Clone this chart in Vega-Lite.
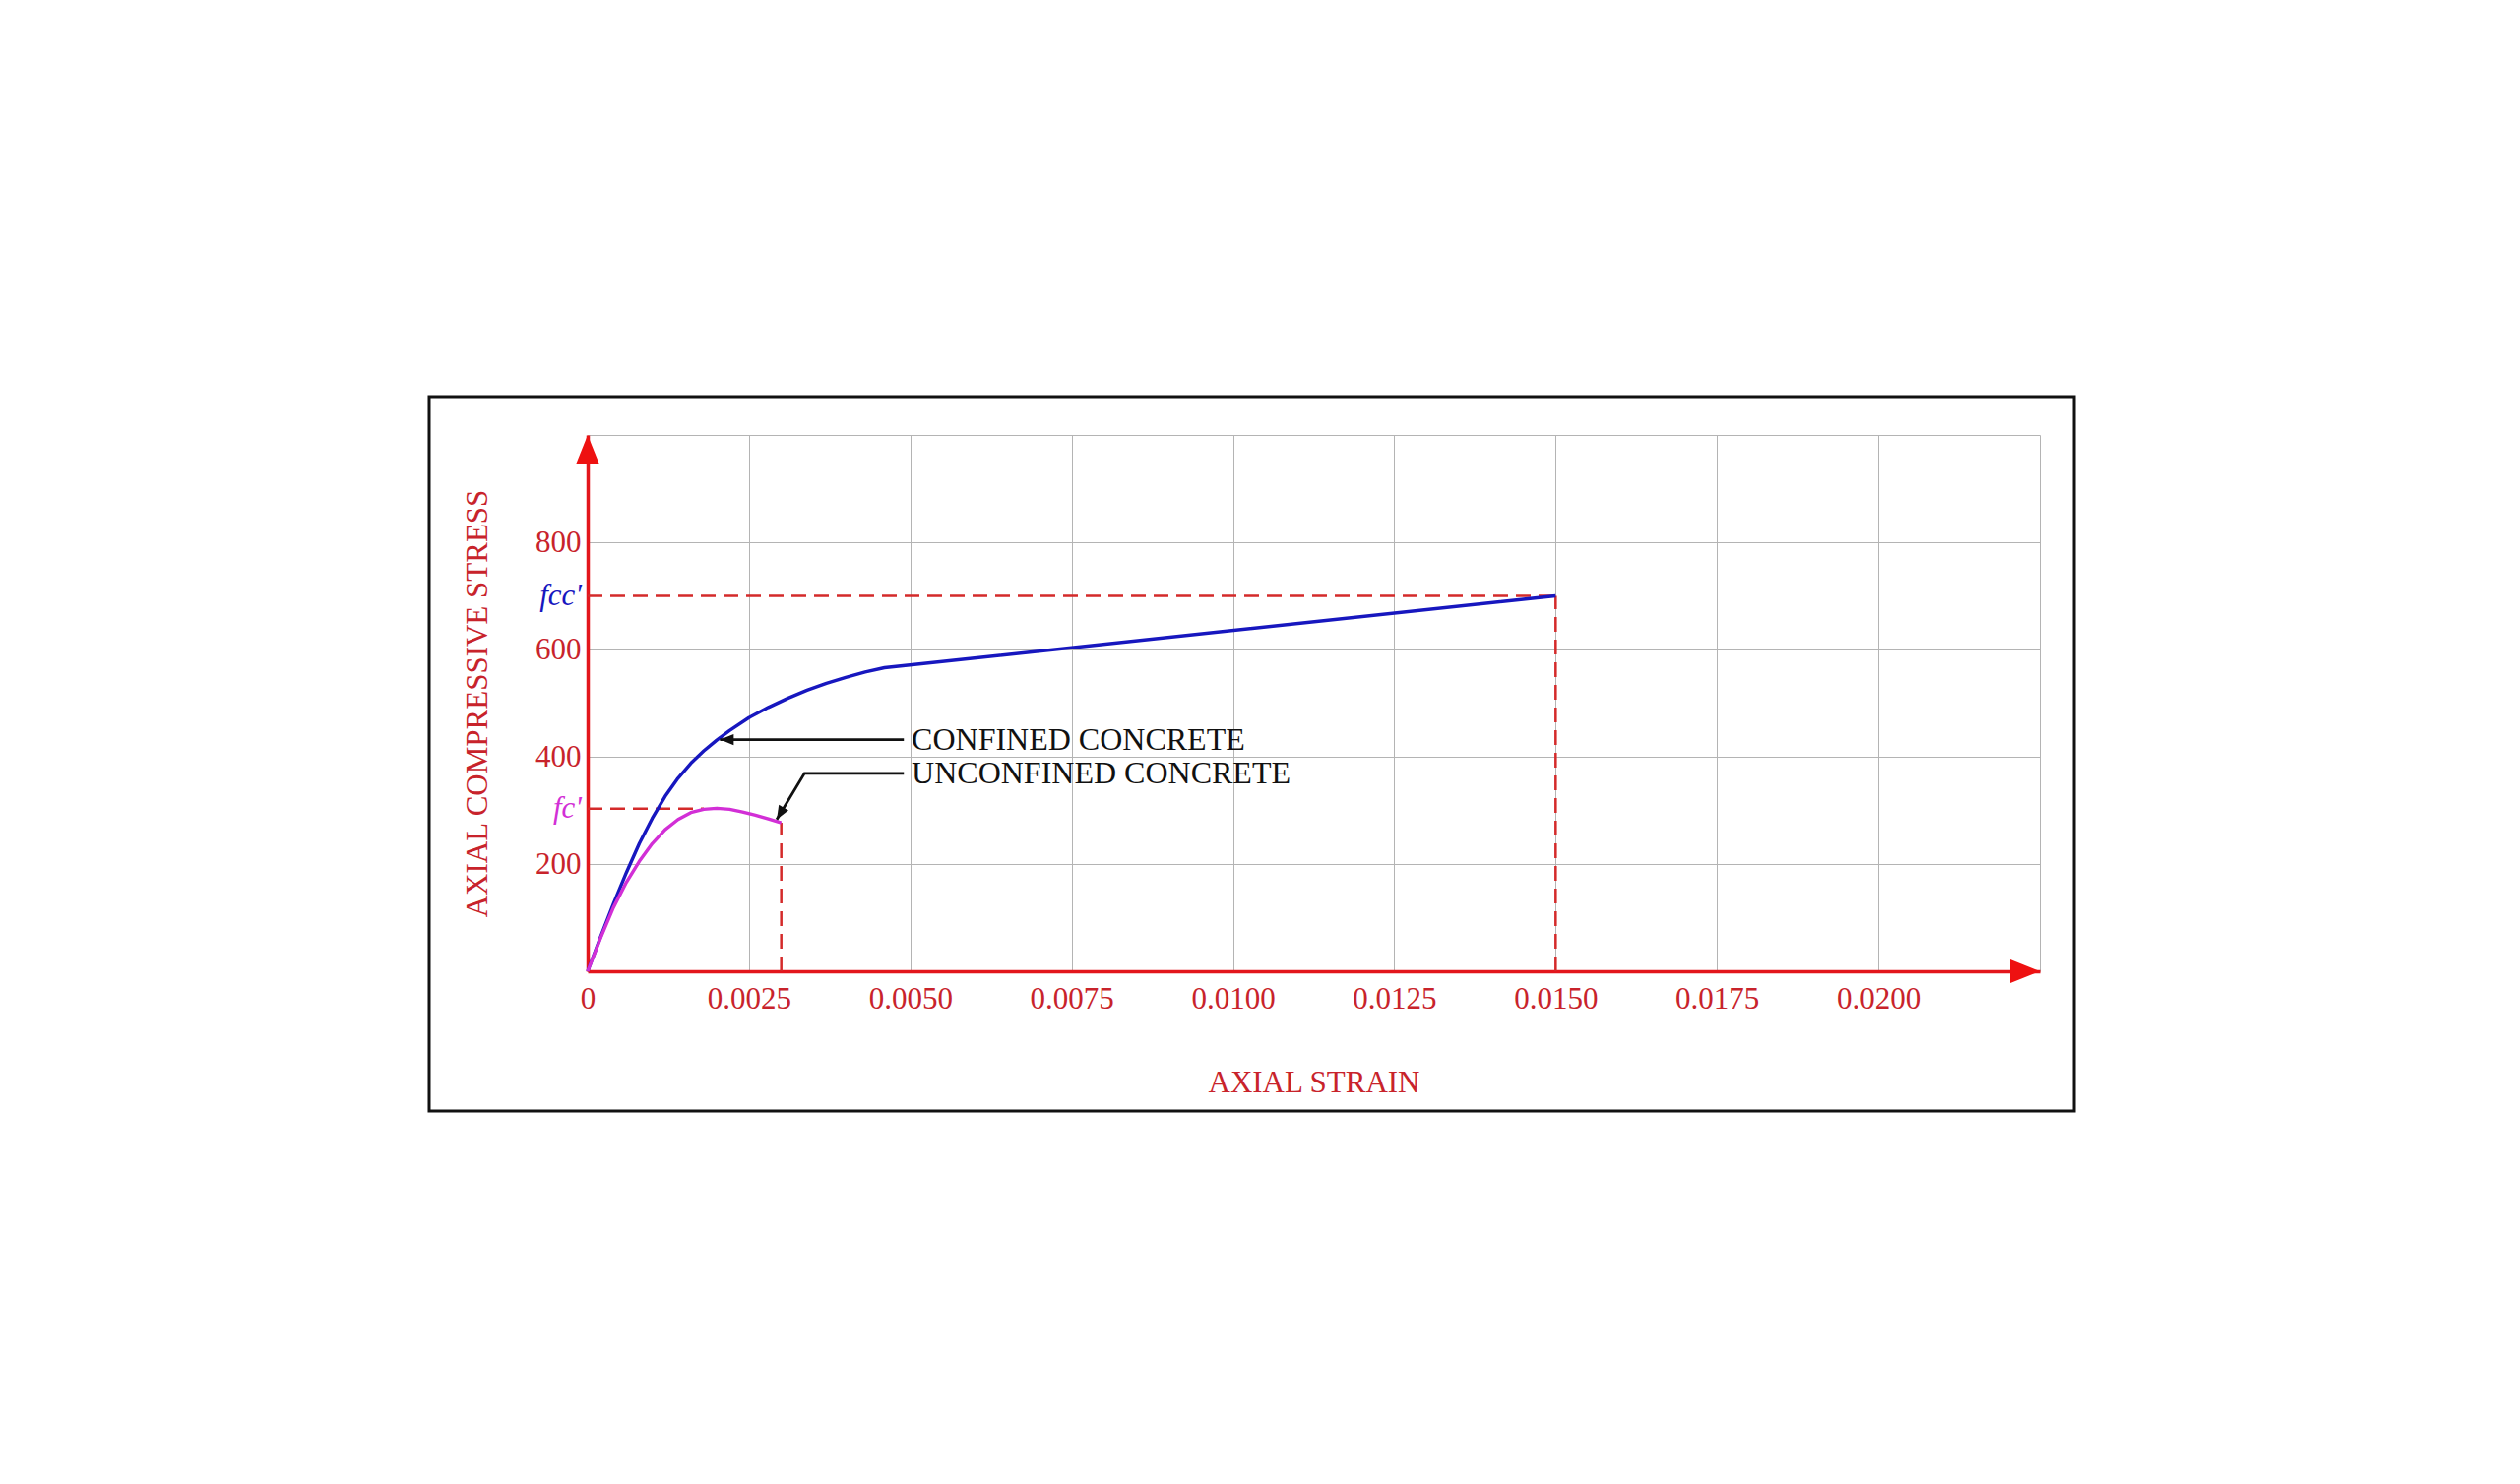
{
  "$schema": "https://vega.github.io/schema/vega-lite/v6.json",
  "width": 1475,
  "height": 545,
  "padding": {"left": 434, "top": 401, "right": 20, "bottom": 20},
  "background": "white",
  "config": {
    "view": {"stroke": null},
    "font": "Liberation Serif"
  },
  "datasets": {
    "curves": [
      {"series": "Confined", "strain": 0, "stress": 0},
      {"series": "Confined", "strain": 0.0002, "stress": 64},
      {"series": "Confined", "strain": 0.0004, "stress": 126},
      {"series": "Confined", "strain": 0.0006, "stress": 184},
      {"series": "Confined", "strain": 0.0008, "stress": 238},
      {"series": "Confined", "strain": 0.001, "stress": 285},
      {"series": "Confined", "strain": 0.0012, "stress": 326},
      {"series": "Confined", "strain": 0.0014, "stress": 360},
      {"series": "Confined", "strain": 0.0016, "stress": 388},
      {"series": "Confined", "strain": 0.0018, "stress": 411},
      {"series": "Confined", "strain": 0.002, "stress": 431},
      {"series": "Confined", "strain": 0.0022, "stress": 449},
      {"series": "Confined", "strain": 0.0025, "stress": 473},
      {"series": "Confined", "strain": 0.0028, "stress": 492},
      {"series": "Confined", "strain": 0.0031, "stress": 509},
      {"series": "Confined", "strain": 0.0034, "stress": 524},
      {"series": "Confined", "strain": 0.0037, "stress": 537},
      {"series": "Confined", "strain": 0.004, "stress": 548},
      {"series": "Confined", "strain": 0.0043, "stress": 558},
      {"series": "Confined", "strain": 0.0046, "stress": 566},
      {"series": "Confined", "strain": 0.015, "stress": 700},
      {"series": "Unconfined", "strain": 0, "stress": 0},
      {"series": "Unconfined", "strain": 0.0002, "stress": 62},
      {"series": "Unconfined", "strain": 0.0004, "stress": 119},
      {"series": "Unconfined", "strain": 0.0006, "stress": 166},
      {"series": "Unconfined", "strain": 0.0008, "stress": 205},
      {"series": "Unconfined", "strain": 0.001, "stress": 238},
      {"series": "Unconfined", "strain": 0.0012, "stress": 264},
      {"series": "Unconfined", "strain": 0.0014, "stress": 283},
      {"series": "Unconfined", "strain": 0.0016, "stress": 296},
      {"series": "Unconfined", "strain": 0.0018, "stress": 302},
      {"series": "Unconfined", "strain": 0.002, "stress": 304},
      {"series": "Unconfined", "strain": 0.0022, "stress": 302},
      {"series": "Unconfined", "strain": 0.0024, "stress": 297},
      {"series": "Unconfined", "strain": 0.0026, "stress": 291},
      {"series": "Unconfined", "strain": 0.0028, "stress": 284},
      {"series": "Unconfined", "strain": 0.003, "stress": 277}
    ],
    "guides": [
      {"strain": 0, "stress": 700, "strain_end": 0.015, "stress_end": 700},
      {"strain": 0.015, "stress": 0, "strain_end": 0.015, "stress_end": 700},
      {"strain": 0, "stress": 303, "strain_end": 0.0018, "stress_end": 303},
      {"strain": 0.003, "stress": 0, "strain_end": 0.003, "stress_end": 277}
    ],
    "peaks": [
      {"series": "Confined", "label": "fcc'", "strain": 0, "stress": 700},
      {"series": "Unconfined", "label": "fc'", "strain": 0, "stress": 303}
    ],
    "notes": [
      {"label": "CONFINED CONCRETE", "strain": 0.00502, "stress": 432},
      {"label": "UNCONFINED CONCRETE", "strain": 0.00502, "stress": 369}
    ],
    "leaders": [
      {"grp": "c", "seq": 1, "strain": 0.0049, "stress": 432},
      {"grp": "c", "seq": 2, "strain": 0.00205, "stress": 432},
      {"grp": "u", "seq": 1, "strain": 0.0049, "stress": 369},
      {"grp": "u", "seq": 2, "strain": 0.00336, "stress": 369},
      {"grp": "u", "seq": 3, "strain": 0.00293, "stress": 283}
    ]
  },
  "layer": [
    {
      "data": {"name": "guides"},
      "mark": {"type": "rule", "color": "#d42a2a", "strokeWidth": 2.5, "strokeDash": [15, 8]},
      "encoding": {
        "x": {
          "field": "strain",
          "type": "quantitative",
          "scale": {"domain": [0, 0.0225], "nice": false, "zero": false},
          "axis": {
            "title": "AXIAL STRAIN",
            "values": [0, 0.0025, 0.005, 0.0075, 0.01, 0.0125, 0.015, 0.0175, 0.02, 0.0225],
            "labelExpr": "datum.value == 0 ? '0' : (datum.value > 0.021 ? '' : format(datum.value, '.4f'))",
            "grid": true,
            "gridColor": "#b4b4b4",
            "gridWidth": 1,
            "domainColor": "#e3161c",
            "domainWidth": 3.5,
            "ticks": false,
            "labelFont": "Liberation Serif",
            "labelFontSize": 31,
            "labelColor": "#c8232b",
            "labelPadding": 13,
            "labelFlush": false,
            "labelOverlap": false,
            "titleFont": "Liberation Serif",
            "titleFontSize": 31,
            "titleFontWeight": "normal",
            "titleColor": "#c8232b",
            "titlePadding": 55
          }
        },
        "y": {
          "field": "stress",
          "type": "quantitative",
          "scale": {"domain": [0, 1000], "nice": false, "zero": false},
          "axis": {
            "title": "AXIAL COMPRESSIVE STRESS",
            "values": [0, 200, 400, 600, 800, 1000],
            "labelExpr": "datum.value >= 200 && datum.value <= 800 ? datum.label : ''",
            "grid": true,
            "gridColor": "#b4b4b4",
            "gridWidth": 1,
            "domainColor": "#e3161c",
            "domainWidth": 3.5,
            "ticks": false,
            "labelFont": "Liberation Serif",
            "labelFontSize": 31,
            "labelColor": "#c8232b",
            "labelPadding": 7,
            "labelOverlap": false,
            "titleFont": "Liberation Serif",
            "titleFontSize": 31,
            "titleFontWeight": "normal",
            "titleColor": "#c8232b",
            "titlePadding": 42
          }
        },
        "x2": {"field": "strain_end"},
        "y2": {"field": "stress_end"}
      }
    },
    {
      "data": {"name": "curves"},
      "mark": {"type": "line", "strokeWidth": 3.4, "interpolate": "linear", "strokeJoin": "round"},
      "encoding": {
        "x": {"field": "strain", "type": "quantitative"},
        "y": {"field": "stress", "type": "quantitative"},
        "color": {
          "field": "series",
          "type": "nominal",
          "scale": {"domain": ["Confined", "Unconfined"], "range": ["#1717bf", "#d22fd6"]},
          "legend": null
        }
      }
    },
    {
      "data": {"name": "peaks"},
      "mark": {"type": "text", "align": "right", "baseline": "middle", "dx": -6, "fontSize": 31, "fontStyle": "italic", "font": "Liberation Serif"},
      "encoding": {
        "x": {"field": "strain", "type": "quantitative"},
        "y": {"field": "stress", "type": "quantitative"},
        "text": {"field": "label"},
        "color": {"field": "series", "type": "nominal", "legend": null}
      }
    },
    {
      "data": {"name": "notes"},
      "mark": {"type": "text", "align": "left", "baseline": "middle", "fontSize": 32, "font": "Liberation Serif", "color": "#111111"},
      "encoding": {
        "x": {"field": "strain", "type": "quantitative"},
        "y": {"field": "stress", "type": "quantitative"},
        "text": {"field": "label"}
      }
    },
    {
      "data": {"name": "leaders"},
      "mark": {"type": "line", "color": "#111111", "strokeWidth": 2.8},
      "encoding": {
        "x": {"field": "strain", "type": "quantitative"},
        "y": {"field": "stress", "type": "quantitative"},
        "detail": {"field": "grp"},
        "order": {"field": "seq"}
      }
    },
    {
      "data": {"name": "leaders"},
      "transform": [{"filter": "datum.grp == 'c' && datum.seq == 2"}],
      "mark": {"type": "point", "shape": "M0,0L0.4,1L-0.4,1Z", "size": 784, "filled": true, "opacity": 1, "color": "#111111", "angle": 270, "strokeWidth": 0},
      "encoding": {
        "x": {"field": "strain", "type": "quantitative"},
        "y": {"field": "stress", "type": "quantitative"}
      }
    },
    {
      "data": {"name": "leaders"},
      "transform": [{"filter": "datum.grp == 'u' && datum.seq == 3"}],
      "mark": {"type": "point", "shape": "M0,0L0.4,1L-0.4,1Z", "size": 784, "filled": true, "opacity": 1, "color": "#111111", "angle": 210, "strokeWidth": 0},
      "encoding": {
        "x": {"field": "strain", "type": "quantitative"},
        "y": {"field": "stress", "type": "quantitative"}
      }
    },
    {
      "data": {"values": [{}]},
      "mark": {"type": "point", "shape": "M0,0L0.4,1L-0.4,1Z", "size": 3600, "filled": true, "opacity": 1, "color": "#ee1111", "angle": 0, "strokeWidth": 0},
      "encoding": {
        "x": {"datum": 0, "type": "quantitative", "scale": {"domain": [0, 0.0225], "nice": false, "zero": false}},
        "y": {"datum": 1000, "type": "quantitative", "scale": {"domain": [0, 1000], "nice": false, "zero": false}}
      }
    },
    {
      "data": {"values": [{}]},
      "mark": {"type": "point", "shape": "M0,0L0.4,1L-0.4,1Z", "size": 3600, "filled": true, "opacity": 1, "color": "#ee1111", "angle": 90, "strokeWidth": 0},
      "encoding": {
        "x": {"datum": 0.0225, "type": "quantitative", "scale": {"domain": [0, 0.0225], "nice": false, "zero": false}},
        "y": {"datum": 0, "type": "quantitative", "scale": {"domain": [0, 1000], "nice": false, "zero": false}}
      }
    },
    {
      "data": {"values": [{}]},
      "mark": {"type": "rect", "filled": false, "stroke": "#111111", "strokeWidth": 3},
      "encoding": {
        "x": {"datum": -0.002456, "type": "quantitative", "scale": {"domain": [0, 0.0225], "nice": false, "zero": false}},
        "x2": {"datum": 0.023034},
        "y": {"datum": 1071.6, "type": "quantitative", "scale": {"domain": [0, 1000], "nice": false, "zero": false}},
        "y2": {"datum": -260.6}
      }
    }
  ]
}
